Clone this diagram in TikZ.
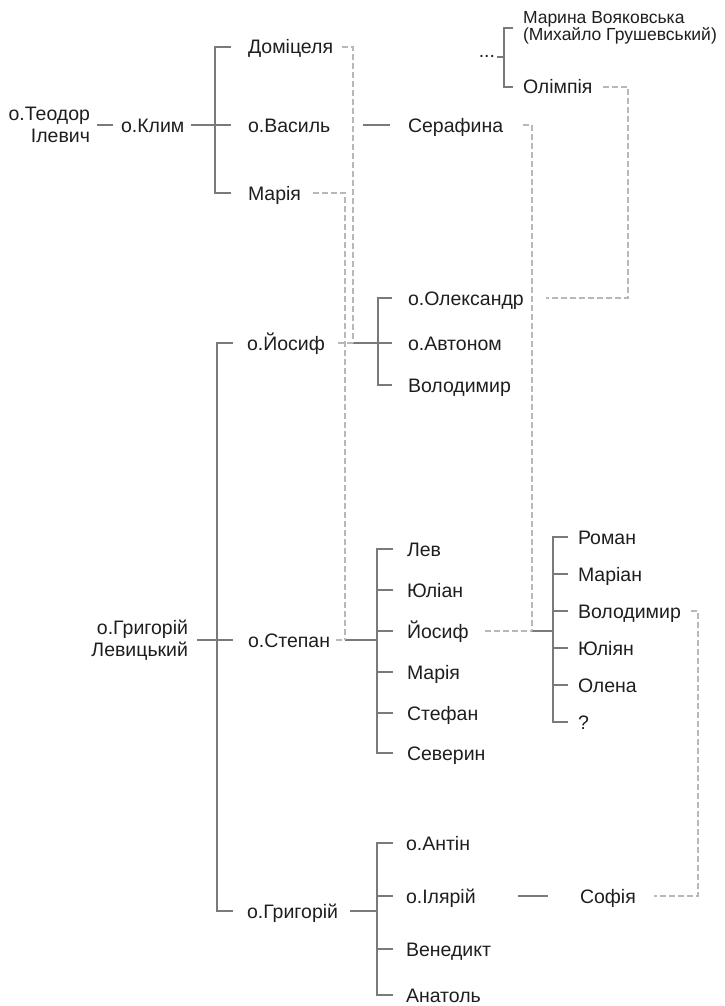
\documentclass[tikz,border=0pt]{standalone}
\usepackage{fontspec}
\setmainfont{Liberation Sans}
\usetikzlibrary{calc}
\definecolor{kingray}{HTML}{7A7A7A}
\definecolor{wedgray}{HTML}{B8B8B8}
\definecolor{txt}{HTML}{1E1E1E}

\begin{document}
\begin{tikzpicture}[x=1pt,y=-1pt,
  pblock/.style={inner sep=0pt, outer sep=0pt, text=txt, font=\fontsize{19.5}{22}\selectfont},
  pname/.style={pblock, text height=14pt, text depth=0pt},
  kin/.style={draw=kingray, line width=2pt},
  wed/.style={draw=wedgray, line width=1.6pt, dash pattern=on 6pt off 3pt},
  ]
  \useasboundingbox (0,0) rectangle (724,1006);

  % Teodor and Klym
  \node [pblock, anchor=east, align=right] (teodor) at (90,125) {о.Теодор\\Ілевич};
  \node [pname, anchor=west] (klim) at (121,125) {о.Клим};
  \node [pname, anchor=west] (domic) at (248,47) {Доміцеля};
  \node [pname, anchor=west] (vasyl) at (248,125) {о.Василь};
  \node [pname, anchor=west] (mariya) at (248,193) {Марія};
  \node [pname, anchor=west] (serafyna) at (408,125) {Серафина};

  % top right
  \node [pname, anchor=east, text height=2pt] (dots) at (495,57) {...};
  \node [pblock, anchor=west, align=left, font=\fontsize{17.5}{17}\selectfont] (marina) at (523,28) {Марина Вояковська\\(Михайло Грушевський)};
  \node [pname, anchor=west] (olimp) at (523,87) {Олімпія};

  % Levytsky and sons
  \node [pblock, anchor=east, align=right] (levyc) at (188,640) {о.Григорій\\Левицький};
  \node [pname, anchor=west] (yosyf) at (247,343) {о.Йосиф};
  \node [pname, anchor=west] (stepan) at (248,640) {о.Степан};
  \node [pname, anchor=west] (hryh) at (247,911) {о.Григорій};

  \node [pname, anchor=west] (oleks) at (408,298) {о.Олександр};
  \node [pname, anchor=west] (avton) at (408,343) {о.Автоном};
  \node [pname, anchor=west] (volod) at (408,385) {Володимир};

  \node [pname, anchor=west] (lev) at (407,549) {Лев};
  \node [pname, anchor=west] (yulian) at (407,590) {Юліан};
  \node [pname, anchor=west] (yos) at (407,631) {Йосиф};
  \node [pname, anchor=west] (mar) at (407,672) {Марія};
  \node [pname, anchor=west] (stef) at (407,713) {Стефан};
  \node [pname, anchor=west] (sever) at (407,753) {Северин};

  \node [pname, anchor=west] (roman) at (578,537) {Роман};
  \node [pname, anchor=west] (marian) at (578,574) {Маріан};
  \node [pname, anchor=west] (volod2) at (578,611) {Володимир};
  \node [pname, anchor=west] (yuliyan) at (578,648) {Юліян};
  \node [pname, anchor=west] (olena) at (578,685) {Олена};
  \node [pname, anchor=west] (unk) at (578,722) {?};

  \node [pname, anchor=west] (antin) at (406,843) {о.Антін};
  \node [pname, anchor=west] (ilyar) at (406,896) {о.Ілярій};
  \node [pname, anchor=west] (vened) at (406,949) {Венедикт};
  \node [pname, anchor=west] (anat) at (406,995) {Анатоль};
  \node [pname, anchor=west] (sofiya) at (580,896) {Софія};

  % joints
  \coordinate (kfork) at (215,125);
  \coordinate (mfork) at (504,57);
  \coordinate (hfork) at (217,640);
  \coordinate (dj) at (353,343);
  \coordinate (yfork) at (378,343);
  \coordinate (mj) at (345,640);
  \coordinate (sfork) at (377,640);
  \coordinate (sj) at (532,631);
  \coordinate (yofork) at (553,631);
  \coordinate (gfork) at (377,911);
  \coordinate (oj) at (628,298);
  \coordinate (vj) at (698,896);

  % blood lines
  \draw [kin, shorten <=7pt, shorten >=8pt] (teodor.east) -- (klim.west);
  \draw [kin, shorten <=7pt, shorten >=17pt] (klim.east) -- (vasyl.west);
  \draw [kin, shorten <=17pt, shorten >=17pt] (domic.west) -| (kfork) |- (mariya.west);

  \draw [kin, shorten <=2pt] (dots.east) -- (mfork);
  \draw [kin, shorten <=10pt, shorten >=10pt] (marina.west) -| (mfork) |- (olimp.west);

  \draw [kin, shorten <=9pt, shorten >=15pt] (levyc.east) -- (stepan.west);
  \draw [kin, shorten <=14pt, shorten >=14pt] (yosyf.west) -| (hfork) |- (hryh.west);

  \draw [kin, shorten >=16pt] (dj) -- (avton.west);
  \draw [kin, shorten <=16pt, shorten >=16pt] (oleks.west) -| (yfork) |- (volod.west);

  \draw [kin] (mj) -- (sfork);
  \draw [kin, shorten <=14pt, shorten >=14pt] (lev.west) -| (sfork) |- (sever.west);
  \draw [kin, shorten <=14pt] (yulian.west) -- (sfork |- yulian.west);
  \draw [kin, shorten <=14pt] (yos.west) -- (sfork |- yos.west);
  \draw [kin, shorten <=14pt] (mar.west) -- (sfork |- mar.west);
  \draw [kin, shorten <=14pt] (stef.west) -- (sfork |- stef.west);

  \draw [kin] (sj) -- (yofork);
  \draw [kin, shorten <=10pt, shorten >=10pt] (roman.west) -| (yofork) |- (unk.west);
  \draw [kin, shorten <=10pt] (marian.west) -- (yofork |- marian.west);
  \draw [kin, shorten <=10pt] (volod2.west) -- (yofork |- volod2.west);
  \draw [kin, shorten <=10pt] (yuliyan.west) -- (yofork |- yuliyan.west);
  \draw [kin, shorten <=10pt] (olena.west) -- (yofork |- olena.west);

  \draw [kin, shorten <=12pt] (hryh.east) -- (gfork);
  \draw [kin, shorten <=13pt, shorten >=13pt] (antin.west) -| (gfork) |- (anat.west);
  \draw [kin, shorten <=13pt] (ilyar.west) -- (gfork |- ilyar.west);
  \draw [kin, shorten <=13pt] (vened.west) -- (gfork |- vened.west);

  % marriages
  \draw [kin, shorten <=33pt, shorten >=18pt] (vasyl.east) -- (serafyna.west);
  \draw [kin, shorten <=42pt, shorten >=32pt] (ilyar.east) -- (sofiya.west);

  \draw [wed, shorten <=9pt] (domic.east) -| (dj);
  \draw [wed, shorten <=13pt] (yosyf.east) -- (dj);
  \draw [wed, shorten <=12pt] (mariya.east) -| (mj);
  \draw [wed, shorten <=6pt] (stepan.east) -- (mj);
  \draw [wed, shorten <=20pt] (serafyna.east) -| (sj);
  \draw [wed, shorten <=16pt] (yos.east) -- (sj);
  \draw [wed, shorten <=10pt, shorten >=22pt] (olimp.east) -| (oj) -- (oleks.east);
  \draw [wed, shorten <=10pt, shorten >=18pt] (volod2.east) -| (vj) -- (sofiya.east);
\end{tikzpicture}
\end{document}
